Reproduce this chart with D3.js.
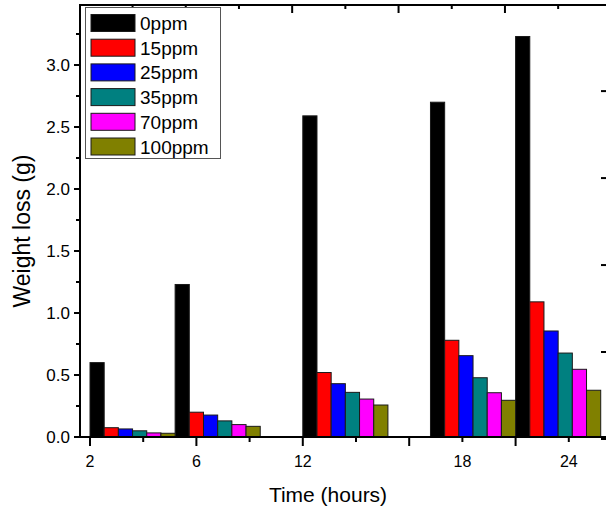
<!DOCTYPE html>
<html>
<head>
<meta charset="utf-8">
<script src="https://cdn.jsdelivr.net/npm/d3@7"></script>
<style>
  html, body { margin: 0; padding: 0; background: #fff; }
  svg { display: block; }
  text { font-family: Arial, "Liberation Sans", sans-serif; fill: #000; }
</style>
</head>
<body>
<svg id="chart" width="606" height="507"></svg>
<script>
// Sampling times and their tick labels
const timeLabels = ["2", "6", "12", "18", "24"];
// Axis units where each time label sits
const labelPos = [0, 2, 4, 7, 9];
// Axis units where each group of bars begins
const groupPos = [0, 1.6, 4, 6.4, 8];

// Concentration series
const seriesNames = ["0ppm", "15ppm", "25ppm", "35ppm", "70ppm", "100ppm"];
const seriesColors = ["#000000", "#ff0000", "#0000ff", "#008080", "#ff00ff", "#808000"];

// Weight loss (g) per series, one value per sampling time
const w0ppm   = [0.60, 1.23, 2.59, 2.70, 3.23];
const w15ppm  = [0.075, 0.20, 0.52, 0.78, 1.09];
const w25ppm  = [0.065, 0.177, 0.43, 0.656, 0.855];
const w35ppm  = [0.05, 0.13, 0.36, 0.478, 0.677];
const w70ppm  = [0.033, 0.10, 0.306, 0.357, 0.546];
const w100ppm = [0.03, 0.086, 0.258, 0.296, 0.377];
const seriesValues = [w0ppm, w15ppm, w25ppm, w35ppm, w70ppm, w100ppm];

const yTicks = [0, 0.5, 1.0, 1.5, 2.0, 2.5, 3.0];

const svg = d3.select("#chart");
const pL = 80, pR = 608, pT = 5, pB = 437;

const x = d3.scaleLinear().domain([-0.188, 9.737]).range([pL, pR]);
const y = d3.scaleLinear().domain([0, 3.484]).range([pB, pT]);
const yRight = d3.scaleLinear().domain([0, 4.99]).range([pB + 2, pT]);
const barW = 1.6 / seriesNames.length;

// Bars
const bars = [];
seriesValues.forEach((vals, si) => {
  vals.forEach((v, gi) => bars.push({ si, gi, v }));
});
svg.append("g").selectAll("rect").data(bars).join("rect")
  .attr("x", d => x(groupPos[d.gi] + d.si * barW))
  .attr("width", d => x(groupPos[d.gi] + (d.si + 1) * barW) - x(groupPos[d.gi] + d.si * barW))
  .attr("y", d => y(d.v))
  .attr("height", d => y(0) - y(d.v))
  .attr("fill", d => seriesColors[d.si])
  .attr("stroke", "#1a1a1a")
  .attr("stroke-width", 1);

// Bottom axis: minor ticks at every unit, major at even units
const bottomTicks = d3.range(0, 10);
const gB = svg.append("g").attr("transform", `translate(0,${pB})`);
gB.selectAll("line.t").data(bottomTicks).join("line")
  .attr("x1", d => x(d)).attr("x2", d => x(d))
  .attr("y1", 0).attr("y2", d => d % 2 === 0 ? 9 : 5)
  .attr("stroke", "#000").attr("stroke-width", 2);
gB.selectAll("text").data(timeLabels).join("text")
  .attr("x", (d, i) => x(labelPos[i]))
  .attr("y", 30)
  .attr("text-anchor", "middle")
  .attr("font-size", 16)
  .text(d => d);

// Top axis ticks (inward)
const topTicks = d3.range(0.8, 9.0, 1);
svg.append("g").selectAll("line").data(topTicks).join("line")
  .attr("x1", d => x(d)).attr("x2", d => x(d))
  .attr("y1", pT).attr("y2", (d, i) => pT + (i % 2 === 1 ? 8 : 4))
  .attr("stroke", "#000").attr("stroke-width", 2);

// Right axis ticks (inward)
svg.append("g").selectAll("line").data(d3.range(0, 5)).join("line")
  .attr("x1", pR).attr("x2", pR - 7)
  .attr("y1", d => yRight(d)).attr("y2", d => yRight(d))
  .attr("stroke", "#000").attr("stroke-width", 2);

// Left axis
const gL = svg.append("g");
const yMinor = d3.range(0.25, 3.5, 0.5);
gL.selectAll("line.minor").data(yMinor).join("line")
  .attr("x1", pL - 4).attr("x2", pL)
  .attr("y1", d => y(d)).attr("y2", d => y(d))
  .attr("stroke", "#000").attr("stroke-width", 2);
gL.selectAll("line.major").data(yTicks).join("line")
  .attr("x1", pL - 6).attr("x2", pL)
  .attr("y1", d => y(d)).attr("y2", d => y(d))
  .attr("stroke", "#000").attr("stroke-width", 2);
gL.selectAll("text").data(yTicks).join("text")
  .attr("x", pL - 10)
  .attr("y", d => y(d) + 6)
  .attr("text-anchor", "end")
  .attr("font-size", 17)
  .text(d => d.toFixed(1));

// Frame lines
svg.append("line").attr("x1", pL).attr("x2", pL).attr("y1", pT).attr("y2", pB + 1)
  .attr("stroke", "#000").attr("stroke-width", 2);
svg.append("line").attr("x1", pL - 1).attr("x2", pR).attr("y1", pB).attr("y2", pB)
  .attr("stroke", "#000").attr("stroke-width", 2);
svg.append("line").attr("x1", pL - 1).attr("x2", pR).attr("y1", pT).attr("y2", pT)
  .attr("stroke", "#000").attr("stroke-width", 2);

// Axis titles
svg.append("text")
  .attr("x", 328).attr("y", 502)
  .attr("text-anchor", "middle")
  .attr("font-size", 21)
  .text("Time (hours)");
svg.append("text")
  .attr("transform", "translate(30,231) rotate(-90)")
  .attr("text-anchor", "middle")
  .attr("font-size", 23)
  .text("Weight loss (g)");

// Legend
const lg = svg.append("g");
lg.append("rect")
  .attr("x", 85.5).attr("y", 7.5).attr("width", 135).attr("height", 151)
  .attr("fill", "#fff").attr("stroke", "#555").attr("stroke-width", 1);
const rows = lg.selectAll("g.row").data(seriesNames).join("g")
  .attr("transform", (d, i) => `translate(91,${14.5 + i * 24.7})`);
rows.append("rect")
  .attr("width", 44).attr("height", 17)
  .attr("fill", (d, i) => seriesColors[i])
  .attr("stroke", "#1a1a1a").attr("stroke-width", 1);
rows.append("text")
  .attr("x", 49).attr("y", 15.5)
  .attr("font-size", 19)
  .text(d => d);
</script>
</body>
</html>
